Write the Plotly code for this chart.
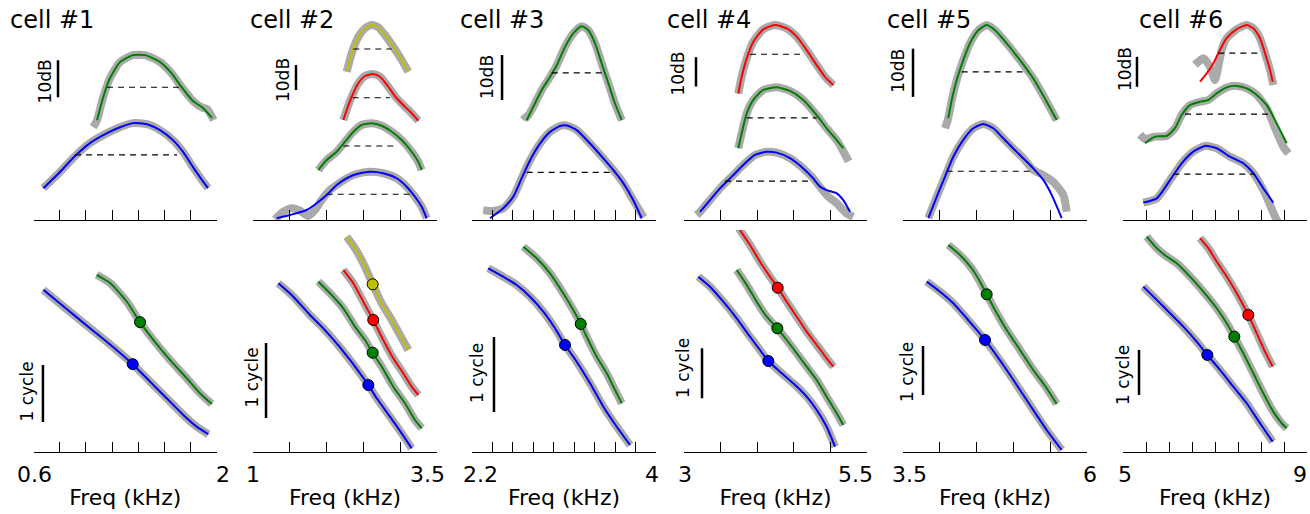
import plotly.graph_objects as go

FIG_W, FIG_H = 1310, 514
BLUE, GREEN, RED, YELLOW = '#0000ff', '#008000', '#ff0000', '#bfbf00'
GRAY = '#aaaaaa'
FONT = 'DejaVu Sans'

# ======================= cell #1 =======================
c1_ticks = [0.6, 0.8, 1.0, 1.2, 1.4, 1.6, 1.8, 2.0]
c1_ticklabels = ['0.6', '2']
c1_top_range = [0, 56.8]
c1_bot_range = [0, 3.89]
c1_amp_blue_f = [0.675, 0.802, 0.917, 1.031, 1.161, 1.260, 1.359, 1.466, 1.565, 1.664, 1.741, 1.817, 1.886, 1.931]
c1_amp_blue_db = [8.6, 13.0, 17.3, 20.8, 23.5, 25.1, 26.2, 25.9, 24.3, 21.6, 18.4, 14.3, 10.8, 8.6]
c1_amp_green_f = [1.085, 1.130, 1.184, 1.260, 1.359, 1.451, 1.566, 1.657, 1.718, 1.817, 1.893, 1.962]
c1_amp_green_db = [27.0, 33.0, 38.4, 42.7, 44.6, 44.6, 42.7, 39.5, 36.5, 32.2, 30.3, 27.6]
c1_gray_green_f = [1.055, 1.085, 1.130, 1.184, 1.260, 1.359, 1.451, 1.566, 1.657, 1.718, 1.817, 1.893, 1.925, 1.975]
c1_gray_green_db = [25.1, 27.0, 33.0, 38.4, 42.7, 44.6, 44.6, 42.7, 39.5, 36.5, 32.2, 30.3, 30.0, 27.0]
c1_dash_level = [17.6, 35.9]
c1_dash_lo = [0.917, 1.161]
c1_dash_hi = [1.695, 1.718]
c1_ph_blue_f = [0.675, 0.853, 1.031, 1.209, 1.357, 1.489, 1.616, 1.743, 1.845, 1.934]
c1_ph_blue_cyc = [2.842, 2.504, 2.170, 1.837, 1.539, 1.233, 0.942, 0.649, 0.444, 0.311]
c1_ph_green_f = [1.082, 1.184, 1.311, 1.413, 1.514, 1.641, 1.769, 1.870, 1.960]
c1_ph_green_cyc = [3.105, 2.960, 2.637, 2.275, 1.965, 1.614, 1.293, 1.030, 0.842]
c1_dot_f = [1.357, 1.413]
c1_dot_cyc = [1.539, 2.275]
c1_db_bar = [0.787, 33.2]
c1_db_label = [0.688, 37.5]
c1_cyc_bar = [0.672, 0.526]
c1_cyc_label = [0.550, 1.058]

# ======================= cell #2 =======================
c2_ticks = [1.0, 1.5, 2.0, 2.5, 3.0, 3.5]
c2_ticklabels = ['1', '3.5']
c2_top_range = [0, 84]
c2_bot_range = [0, 2.96]
c2_amp_yellow_f = [2.273, 2.341, 2.431, 2.522, 2.613, 2.702, 2.793, 2.906, 3.020, 3.110]
c2_amp_yellow_db = [59.3, 66.7, 73.3, 76.7, 78.0, 77.1, 74.0, 69.3, 64.0, 59.3]
c2_amp_red_f = [2.227, 2.273, 2.341, 2.431, 2.522, 2.626, 2.726, 2.838, 2.952, 3.065, 3.156, 3.246]
c2_amp_red_db = [40.0, 44.0, 49.3, 54.7, 57.6, 58.4, 57.3, 53.3, 48.7, 45.3, 42.7, 39.7]
c2_amp_green_f = [1.887, 2.001, 2.137, 2.250, 2.363, 2.477, 2.613, 2.749, 2.885, 3.020, 3.156, 3.246, 3.292]
c2_amp_green_db = [20.0, 24.0, 27.3, 31.3, 35.3, 38.0, 38.7, 37.7, 35.3, 32.0, 27.3, 23.3, 20.0]
c2_amp_blue_f = [1.322, 1.503, 1.730, 1.865, 2.001, 2.137, 2.273, 2.409, 2.590, 2.770, 2.952, 3.088, 3.201, 3.292, 3.360]
c2_amp_blue_db = [0.7, 2.0, 4.0, 6.7, 10.0, 14.0, 16.7, 18.4, 19.3, 18.7, 16.7, 13.3, 9.3, 5.3, 0.7]
c2_gray_blue_f = [1.299, 1.412, 1.526, 1.639, 1.751, 1.842, 1.933, 2.046, 2.137, 2.273, 2.409, 2.590, 2.770, 2.952, 3.088, 3.201, 3.292, 3.360]
c2_gray_blue_db = [0.3, 3.3, 4.7, 3.7, 1.6, 4.0, 8.0, 12.0, 14.0, 16.7, 18.4, 19.3, 18.7, 16.7, 13.3, 9.3, 5.3, 0.7]
c2_dash_level = [10.3, 29.6, 48.9, 68.4]
c2_dash_lo = [2.001, 2.227, 2.355, 2.363]
c2_dash_hi = [3.133, 2.952, 2.861, 2.884]
c2_ph_yellow_f = [2.273, 2.386, 2.499, 2.626, 2.749, 2.885, 2.997, 3.110]
c2_ph_yellow_cyc = [2.871, 2.716, 2.516, 2.236, 1.983, 1.760, 1.560, 1.360]
c2_ph_red_f = [2.227, 2.363, 2.499, 2.634, 2.770, 2.906, 3.042, 3.156, 3.246]
c2_ph_red_cyc = [2.427, 2.249, 2.004, 1.760, 1.493, 1.249, 1.049, 0.871, 0.760]
c2_ph_green_f = [1.887, 2.046, 2.227, 2.386, 2.522, 2.626, 2.749, 2.906, 3.065, 3.201, 3.292]
c2_ph_green_cyc = [2.271, 2.116, 1.916, 1.671, 1.493, 1.324, 1.137, 0.871, 0.649, 0.427, 0.316]
c2_ph_blue_f = [1.344, 1.548, 1.774, 1.955, 2.137, 2.318, 2.454, 2.567, 2.681, 2.861, 3.020, 3.156]
c2_ph_blue_cyc = [2.249, 2.071, 1.827, 1.649, 1.449, 1.227, 1.049, 0.893, 0.716, 0.471, 0.249, 0.049]
c2_dot_f = [2.567, 2.626, 2.634, 2.626]
c2_dot_cyc = [0.893, 1.324, 1.760, 2.236]
c2_db_bar = [1.584, 52.0]
c2_db_label = [1.408, 56.0]
c2_cyc_bar = [1.177, 0.453]
c2_cyc_label = [0.986, 0.993]

# ======================= cell #3 =======================
c3_ticks = [2.2, 2.4, 2.6, 2.8, 3.0, 3.2, 3.4, 3.6, 3.8, 4.0]
c3_ticklabels = ['2.2', '4']
c3_top_range = [0, 46.7]
c3_bot_range = [0, 2.96]
c3_amp_green_f = [2.735, 2.800, 2.882, 2.963, 3.029, 3.110, 3.191, 3.273, 3.338, 3.404, 3.469, 3.534, 3.599, 3.665]
c3_amp_green_db = [22.2, 25.2, 28.9, 31.8, 34.4, 38.5, 41.5, 43.1, 42.2, 39.3, 34.8, 30.4, 25.9, 22.2]
c3_gray_green_f = [2.700, 2.735, 2.800, 2.882, 2.963, 3.029, 3.110, 3.191, 3.273, 3.338, 3.404, 3.469, 3.534, 3.599, 3.665]
c3_gray_green_db = [23.5, 22.8, 25.2, 28.9, 31.8, 34.4, 38.5, 41.5, 43.1, 42.2, 39.3, 34.8, 30.4, 25.9, 22.2]
c3_amp_blue_f = [2.376, 2.506, 2.604, 2.686, 2.768, 2.865, 2.963, 3.061, 3.127, 3.224, 3.355, 3.485, 3.583, 3.680, 3.778, 3.860]
c3_amp_blue_db = [0.4, 2.6, 5.2, 9.3, 13.3, 17.0, 19.6, 20.9, 21.0, 20.0, 17.0, 13.7, 11.1, 8.2, 4.4, 0.4]
c3_gray_blue_f = [2.310, 2.400, 2.506, 2.604, 2.686, 2.768, 2.865, 2.963, 3.061, 3.127, 3.224, 3.355, 3.485, 3.583, 3.680, 3.778, 3.880]
c3_gray_blue_db = [2.2, 2.0, 2.6, 5.2, 9.3, 13.3, 17.0, 19.6, 20.9, 21.0, 20.0, 17.0, 13.7, 11.1, 8.2, 4.4, 0.6]
c3_dash_level = [10.6, 32.7]
c3_dash_lo = [2.735, 2.980]
c3_dash_hi = [3.583, 3.501]
c3_ph_green_f = [2.702, 2.833, 2.963, 3.093, 3.191, 3.264, 3.322, 3.420, 3.518, 3.599, 3.665]
c3_ph_green_cyc = [2.737, 2.583, 2.383, 2.116, 1.893, 1.707, 1.537, 1.271, 1.049, 0.827, 0.649]
c3_ph_blue_f = [2.359, 2.506, 2.637, 2.768, 2.898, 3.012, 3.110, 3.224, 3.355, 3.485, 3.616, 3.746]
c3_ph_blue_cyc = [2.449, 2.337, 2.227, 2.071, 1.871, 1.649, 1.427, 1.204, 0.916, 0.604, 0.337, 0.093]
c3_dot_f = [3.110, 3.264]
c3_dot_cyc = [1.427, 1.707]
c3_db_bar = [2.494, 26.7]
c3_db_label = [2.347, 31.8]
c3_cyc_bar = [2.415, 0.533]
c3_cyc_label = [2.249, 1.053]

# ======================= cell #4 =======================
c4_ticks = [3.0, 3.5, 4.0, 4.5, 5.0, 5.5]
c4_ticklabels = ['3', '5.5']
c4_top_range = [0, 71.7]
c4_bot_range = [0, 4.44]
c4_amp_red_f = [3.742, 3.788, 3.857, 3.947, 4.083, 4.243, 4.403, 4.540, 4.676, 4.813, 4.926, 5.040]
c4_amp_red_db = [43.2, 48.9, 55.2, 60.9, 65.1, 66.6, 65.4, 62.6, 58.0, 52.9, 48.9, 46.1]
c4_amp_green_f = [3.742, 3.788, 3.857, 3.947, 4.083, 4.266, 4.448, 4.630, 4.813, 4.949, 5.086, 5.176]
c4_amp_green_db = [24.5, 29.6, 36.4, 41.0, 44.4, 45.3, 44.1, 41.0, 35.8, 31.3, 27.3, 24.5]
c4_gray_green_f = [3.742, 3.788, 3.857, 3.947, 4.083, 4.266, 4.448, 4.630, 4.813, 4.949, 5.086, 5.176, 5.250]
c4_gray_green_db = [24.5, 29.6, 36.4, 41.0, 44.4, 45.3, 44.1, 41.0, 35.8, 31.3, 27.3, 23.5, 20.0]
c4_amp_blue_f = [3.219, 3.355, 3.492, 3.652, 3.810, 3.970, 4.130, 4.266, 4.448, 4.630, 4.766, 4.858, 4.949, 5.086, 5.176, 5.268]
c4_amp_blue_db = [2.8, 6.8, 10.8, 14.8, 18.8, 22.2, 23.3, 23.0, 21.1, 17.6, 14.2, 11.4, 10.2, 9.1, 6.8, 2.8]
c4_gray_blue_f = [3.173, 3.219, 3.355, 3.492, 3.652, 3.810, 3.970, 4.130, 4.266, 4.448, 4.630, 4.766, 4.949, 5.086, 5.220, 5.310]
c4_gray_blue_db = [1.7, 2.8, 6.8, 10.8, 14.8, 18.8, 22.2, 23.3, 23.0, 21.1, 17.6, 14.2, 8.5, 5.7, 2.3, 1.1]
c4_dash_level = [13.3, 34.9, 56.6]
c4_dash_lo = [3.560, 3.857, 3.902]
c4_dash_hi = [4.766, 4.813, 4.630]
c4_ph_red_f = [3.735, 3.765, 3.902, 4.038, 4.175, 4.280, 4.403, 4.540, 4.676, 4.813, 4.949, 5.040]
c4_ph_red_cyc = [4.52, 4.44, 4.14, 3.806, 3.506, 3.286, 3.006, 2.706, 2.406, 2.14, 1.874, 1.706]
c4_ph_green_f = [3.720, 3.857, 3.993, 4.130, 4.275, 4.403, 4.540, 4.676, 4.813, 4.949, 5.086, 5.176]
c4_ph_green_cyc = [3.64, 3.34, 3.006, 2.706, 2.474, 2.24, 1.974, 1.706, 1.44, 1.106, 0.774, 0.54]
c4_ph_blue_f = [3.195, 3.355, 3.537, 3.720, 3.902, 4.038, 4.152, 4.311, 4.493, 4.676, 4.813, 4.949, 5.063]
c4_ph_blue_cyc = [3.506, 3.306, 3.006, 2.674, 2.306, 2.04, 1.82, 1.606, 1.374, 1.106, 0.84, 0.506, 0.106]
c4_dot_f = [4.152, 4.275, 4.280]
c4_dot_cyc = [1.82, 2.474, 3.286]
c4_db_bar = [3.164, 45.6]
c4_db_label = [2.918, 50.0]
c4_cyc_bar = [3.246, 1.074]
c4_cyc_label = [2.986, 1.68]

# ======================= cell #5 =======================
c5_ticks = [3.5, 4.0, 4.5, 5.0, 5.5, 6.0]
c5_ticklabels = ['3.5', '6']
c5_top_range = [0, 43.5]
c5_bot_range = [0, 4.53]
c5_amp_green_f = [4.115, 4.162, 4.230, 4.319, 4.410, 4.523, 4.637, 4.750, 4.909, 5.090, 5.270, 5.452, 5.588]
c5_amp_green_db = [21.1, 24.8, 29.0, 33.1, 36.6, 39.3, 40.4, 39.3, 36.6, 33.1, 29.3, 24.5, 20.7]
c5_gray_green_f = [4.071, 4.115, 4.162, 4.230, 4.319, 4.410, 4.523, 4.637, 4.750, 4.909, 5.090, 5.270, 5.452, 5.588]
c5_gray_green_db = [19.0, 21.1, 24.8, 29.0, 33.1, 36.6, 39.3, 40.4, 39.3, 36.6, 33.1, 29.3, 24.5, 20.7]
c5_amp_blue_f = [3.844, 3.958, 4.071, 4.183, 4.319, 4.455, 4.591, 4.727, 4.863, 4.999, 5.134, 5.270, 5.406, 5.520, 5.656]
c5_amp_blue_db = [0.4, 4.8, 9.0, 13.1, 16.6, 19.0, 19.9, 19.0, 16.9, 14.8, 12.8, 10.7, 8.3, 5.2, 0.4]
c5_gray_blue_f = [3.844, 3.958, 4.071, 4.183, 4.319, 4.455, 4.591, 4.727, 4.863, 4.999, 5.134, 5.270, 5.406, 5.542, 5.678, 5.724]
c5_gray_blue_db = [0.4, 4.8, 9.0, 13.1, 16.6, 19.0, 19.9, 19.0, 16.9, 14.8, 12.8, 10.4, 9.3, 7.9, 5.2, 1.7]
c5_dash_level = [10.1, 30.7]
c5_dash_lo = [4.094, 4.297]
c5_dash_hi = [5.293, 5.202]
c5_ph_green_f = [4.115, 4.274, 4.433, 4.546, 4.637, 4.750, 4.909, 5.090, 5.270, 5.452, 5.588]
c5_ph_green_cyc = [4.224, 4.020, 3.749, 3.476, 3.218, 2.898, 2.490, 2.082, 1.673, 1.300, 0.980]
c5_ph_blue_f = [3.822, 4.003, 4.183, 4.365, 4.501, 4.614, 4.750, 4.909, 5.090, 5.270, 5.452, 5.656]
c5_ph_blue_cyc = [3.476, 3.271, 3.035, 2.729, 2.490, 2.286, 2.014, 1.673, 1.265, 0.857, 0.449, 0.041]
c5_dot_f = [4.614, 4.637]
c5_dot_cyc = [2.286, 3.218]
c5_db_bar = [3.636, 25.5]
c5_db_label = [3.432, 30.9]
c5_cyc_bar = [3.772, 1.163]
c5_cyc_label = [3.554, 1.633]

# ======================= cell #6 =======================
c6_ticks = [5.0, 5.5, 6.0, 6.5, 7.0, 7.5, 8.0, 8.5, 9.0]
c6_ticklabels = ['5', '9']
c6_top_range = [0, 70]
c6_bot_range = [0, 4.93]
c6_amp_red_f = [6.674, 6.820, 6.963, 7.109, 7.254, 7.472, 7.689, 7.833, 7.978, 8.087, 8.196, 8.254]
c6_amp_red_db = [46.1, 48.9, 52.2, 56.7, 60.6, 63.6, 65.0, 63.9, 60.6, 55.6, 50.0, 46.1]
c6_gray_red_f = [6.565, 6.746, 6.891, 7.000, 7.072, 7.146, 7.254, 7.472, 7.689, 7.833, 7.978, 8.087, 8.196, 8.268]
c6_gray_red_db = [51.7, 53.9, 51.1, 46.7, 51.1, 56.7, 60.6, 63.6, 65.0, 63.9, 60.6, 55.6, 50.0, 45.0]
c6_amp_green_f = [5.478, 5.696, 5.950, 6.130, 6.276, 6.457, 6.674, 6.854, 7.037, 7.254, 7.472, 7.689, 7.907, 8.124, 8.304, 8.450, 8.559]
c6_amp_green_db = [25.6, 27.8, 28.0, 30.6, 35.0, 38.3, 39.4, 40.0, 42.2, 44.2, 44.7, 43.9, 41.7, 38.3, 33.3, 28.9, 25.6]
c6_gray_green_f = [5.370, 5.478, 5.696, 5.950, 6.130, 6.276, 6.457, 6.674, 6.854, 7.037, 7.254, 7.472, 7.689, 7.907, 8.124, 8.304, 8.485, 8.593]
c6_gray_green_db = [28.5, 27.0, 27.8, 28.0, 30.6, 35.0, 38.3, 39.4, 40.0, 42.2, 44.2, 44.7, 43.9, 41.7, 37.3, 30.7, 24.4, 22.2]
c6_amp_blue_f = [5.441, 5.733, 6.022, 6.276, 6.528, 6.783, 7.037, 7.326, 7.615, 7.833, 8.050, 8.267]
c6_amp_blue_db = [5.8, 7.2, 13.3, 18.9, 22.8, 24.7, 23.9, 21.1, 18.9, 15.6, 10.6, 5.8]
c6_gray_blue_f = [5.441, 5.733, 6.022, 6.276, 6.528, 6.783, 7.037, 7.326, 7.615, 7.833, 8.050, 8.196, 8.341, 8.420]
c6_gray_blue_db = [5.8, 7.2, 13.3, 18.9, 22.8, 24.7, 23.9, 21.1, 18.9, 15.6, 10.0, 5.0, 0.0, -2.0]
c6_dash_level = [15.3, 35.3, 55.6]
c6_dash_lo = [6.094, 6.348, 7.072]
c6_dash_hi = [7.870, 8.233, 7.941]
c6_ph_red_f = [6.674, 6.854, 7.037, 7.254, 7.472, 7.724, 7.907, 8.087, 8.254]
c6_ph_red_cyc = [4.749, 4.527, 4.229, 3.896, 3.527, 3.044, 2.638, 2.229, 1.896]
c6_ph_green_f = [5.515, 5.733, 5.950, 6.167, 6.457, 6.746, 7.037, 7.254, 7.420, 7.615, 7.833, 8.050, 8.267, 8.450, 8.559]
c6_ph_green_cyc = [4.784, 4.527, 4.340, 4.193, 3.896, 3.562, 3.193, 2.860, 2.562, 2.193, 1.749, 1.304, 0.896, 0.638, 0.527]
c6_ph_blue_f = [5.441, 5.733, 6.022, 6.311, 6.602, 6.833, 7.109, 7.398, 7.689, 7.978, 8.254]
c6_ph_blue_cyc = [3.673, 3.378, 3.082, 2.784, 2.451, 2.156, 1.822, 1.451, 1.082, 0.638, 0.229]
c6_dot_f = [6.833, 7.420, 7.724]
c6_dot_cyc = [2.156, 2.562, 3.044]
c6_db_bar = [5.304, 44.4]
c6_db_label = [5.043, 50.3]
c6_cyc_bar = [5.348, 1.267]
c6_cyc_label = [5.000, 1.711]

titles = ['cell #1', 'cell #2', 'cell #3', 'cell #4', 'cell #5', 'cell #6']

cells = [
    dict(ticks=c1_ticks, labels=c1_ticklabels, top=c1_top_range, bot=c1_bot_range,
         amp=[(BLUE, c1_amp_blue_f, c1_amp_blue_db, c1_amp_blue_f, c1_amp_blue_db),
              (GREEN, c1_amp_green_f, c1_amp_green_db, c1_gray_green_f, c1_gray_green_db)],
         dl=c1_dash_level, dlo=c1_dash_lo, dhi=c1_dash_hi,
         ph=[(BLUE, c1_ph_blue_f, c1_ph_blue_cyc), (GREEN, c1_ph_green_f, c1_ph_green_cyc)],
         dots=(c1_dot_f, c1_dot_cyc, [BLUE, GREEN]),
         dbbar=c1_db_bar, dblab=c1_db_label, cycbar=c1_cyc_bar, cyclab=c1_cyc_label),
    dict(ticks=c2_ticks, labels=c2_ticklabels, top=c2_top_range, bot=c2_bot_range,
         amp=[(BLUE, c2_amp_blue_f, c2_amp_blue_db, c2_gray_blue_f, c2_gray_blue_db),
              (GREEN, c2_amp_green_f, c2_amp_green_db, c2_amp_green_f, c2_amp_green_db),
              (RED, c2_amp_red_f, c2_amp_red_db, c2_amp_red_f, c2_amp_red_db),
              (YELLOW, c2_amp_yellow_f, c2_amp_yellow_db, c2_amp_yellow_f, c2_amp_yellow_db)],
         dl=c2_dash_level, dlo=c2_dash_lo, dhi=c2_dash_hi,
         ph=[(BLUE, c2_ph_blue_f, c2_ph_blue_cyc), (GREEN, c2_ph_green_f, c2_ph_green_cyc),
             (RED, c2_ph_red_f, c2_ph_red_cyc), (YELLOW, c2_ph_yellow_f, c2_ph_yellow_cyc)],
         dots=(c2_dot_f, c2_dot_cyc, [BLUE, GREEN, RED, YELLOW]),
         dbbar=c2_db_bar, dblab=c2_db_label, cycbar=c2_cyc_bar, cyclab=c2_cyc_label),
    dict(ticks=c3_ticks, labels=c3_ticklabels, top=c3_top_range, bot=c3_bot_range,
         amp=[(BLUE, c3_amp_blue_f, c3_amp_blue_db, c3_gray_blue_f, c3_gray_blue_db),
              (GREEN, c3_amp_green_f, c3_amp_green_db, c3_gray_green_f, c3_gray_green_db)],
         dl=c3_dash_level, dlo=c3_dash_lo, dhi=c3_dash_hi,
         ph=[(BLUE, c3_ph_blue_f, c3_ph_blue_cyc), (GREEN, c3_ph_green_f, c3_ph_green_cyc)],
         dots=(c3_dot_f, c3_dot_cyc, [BLUE, GREEN]),
         dbbar=c3_db_bar, dblab=c3_db_label, cycbar=c3_cyc_bar, cyclab=c3_cyc_label),
    dict(ticks=c4_ticks, labels=c4_ticklabels, top=c4_top_range, bot=c4_bot_range,
         amp=[(BLUE, c4_amp_blue_f, c4_amp_blue_db, c4_gray_blue_f, c4_gray_blue_db),
              (GREEN, c4_amp_green_f, c4_amp_green_db, c4_gray_green_f, c4_gray_green_db),
              (RED, c4_amp_red_f, c4_amp_red_db, c4_amp_red_f, c4_amp_red_db)],
         dl=c4_dash_level, dlo=c4_dash_lo, dhi=c4_dash_hi,
         ph=[(BLUE, c4_ph_blue_f, c4_ph_blue_cyc), (GREEN, c4_ph_green_f, c4_ph_green_cyc),
             (RED, c4_ph_red_f, c4_ph_red_cyc)],
         dots=(c4_dot_f, c4_dot_cyc, [BLUE, GREEN, RED]),
         dbbar=c4_db_bar, dblab=c4_db_label, cycbar=c4_cyc_bar, cyclab=c4_cyc_label),
    dict(ticks=c5_ticks, labels=c5_ticklabels, top=c5_top_range, bot=c5_bot_range,
         amp=[(BLUE, c5_amp_blue_f, c5_amp_blue_db, c5_gray_blue_f, c5_gray_blue_db),
              (GREEN, c5_amp_green_f, c5_amp_green_db, c5_gray_green_f, c5_gray_green_db)],
         dl=c5_dash_level, dlo=c5_dash_lo, dhi=c5_dash_hi,
         ph=[(BLUE, c5_ph_blue_f, c5_ph_blue_cyc), (GREEN, c5_ph_green_f, c5_ph_green_cyc)],
         dots=(c5_dot_f, c5_dot_cyc, [BLUE, GREEN]),
         dbbar=c5_db_bar, dblab=c5_db_label, cycbar=c5_cyc_bar, cyclab=c5_cyc_label),
    dict(ticks=c6_ticks, labels=c6_ticklabels, top=c6_top_range, bot=c6_bot_range,
         amp=[(BLUE, c6_amp_blue_f, c6_amp_blue_db, c6_gray_blue_f, c6_gray_blue_db),
              (GREEN, c6_amp_green_f, c6_amp_green_db, c6_gray_green_f, c6_gray_green_db),
              (RED, c6_amp_red_f, c6_amp_red_db, c6_gray_red_f, c6_gray_red_db)],
         dl=c6_dash_level, dlo=c6_dash_lo, dhi=c6_dash_hi,
         ph=[(BLUE, c6_ph_blue_f, c6_ph_blue_cyc), (GREEN, c6_ph_green_f, c6_ph_green_cyc),
             (RED, c6_ph_red_f, c6_ph_red_cyc)],
         dots=(c6_dot_f, c6_dot_cyc, [BLUE, GREEN, RED]),
         dbbar=c6_db_bar, dblab=c6_db_label, cycbar=c6_cyc_bar, cyclab=c6_cyc_label),
]

# ---------------- layout geometry (pixels) ----------------
PANEL_X = [(33.5, 217), (253, 437), (472, 656), (684, 867), (903, 1087), (1123, 1307)]
TOP_Y = (10, 220)
BOT_Y = (230, 452)
TITLE_X = [8, 248, 458, 665, 885, 1137]
TITLE_Y = 20
TICKLABEL_Y = 474
# horizontal nudge (px) of the end tick labels (left, right) in each panel
TICKLABEL_SHIFT = [(1, 6), (0, -10), (8, -4), (1, -12), (6, 3), (2, -7)]


def px_x(p):
    return p / FIG_W


def px_y(p):
    return 1 - p / FIG_H


def data_to_paper(v, rng, dom):
    return dom[0] + (v - rng[0]) / (rng[1] - rng[0]) * (dom[1] - dom[0])


fig = go.Figure()
layout_axes = {}
annotations = []


def names(k):
    xs = 'x' if k == 1 else f'x{k}'
    ys = 'y' if k == 1 else f'y{k}'
    xl = 'xaxis' if k == 1 else f'xaxis{k}'
    yl = 'yaxis' if k == 1 else f'yaxis{k}'
    return xs, ys, xl, yl


def line_trace(f, v, color, width, xs, ys, dash=None, spline=True):
    ln = dict(color=color, width=width)
    if spline:
        ln.update(shape='spline', smoothing=0.6)
    if dash:
        ln['dash'] = dash
    return go.Scatter(x=f, y=v, mode='lines', line=ln, xaxis=xs, yaxis=ys,
                      hoverinfo='skip', showlegend=False)


for i, c in enumerate(cells):
    x0, x1 = PANEL_X[i]
    kt, kb = 2 * i + 1, 2 * i + 2
    xt, yt, xlt, ylt = names(kt)
    xb, yb, xlb, ylb = names(kb)
    rng = [c['ticks'][0], c['ticks'][-1]]
    xdom = [px_x(x0), px_x(x1)]
    tdom = [px_y(TOP_Y[1]), px_y(TOP_Y[0])]
    bdom = [px_y(BOT_Y[1]), px_y(BOT_Y[0])]
    common_x = dict(domain=xdom, range=rng, showline=True, linecolor='black',
                    linewidth=1.3, ticks='inside', ticklen=10, tickwidth=1.3, tickcolor='black',
                    tickmode='array', tickvals=c['ticks'], showgrid=False, zeroline=False,
                    fixedrange=True, automargin=False, showticklabels=False)
    layout_axes[xlt] = dict(common_x, anchor=yt)
    layout_axes[ylt] = dict(domain=tdom, range=c['top'], visible=False, anchor=xt, fixedrange=True)
    layout_axes[xlb] = dict(common_x, anchor=yb,
                            title=dict(text='Freq (kHz)', font=dict(family=FONT, size=22, color='black'),
                                       standoff=37))
    layout_axes[ylb] = dict(domain=bdom, range=c['bot'], visible=False, anchor=xb, fixedrange=True)

    # end tick labels of the frequency axis
    for val, txt, sh in zip([rng[0], rng[1]], c['labels'], TICKLABEL_SHIFT[i]):
        annotations.append(dict(x=val, y=px_y(TICKLABEL_Y), xref=xb, yref='paper', text=txt,
                                showarrow=False, xanchor='center', yanchor='middle', xshift=sh,
                                font=dict(family=FONT, size=22, color='black')))

    # amplitude curves: gray raw first, then coloured fits
    for col, f, v, gf, gv in c['amp']:
        fig.add_trace(line_trace(gf, gv, GRAY, 8, xt, yt))
    for col, f, v, gf, gv in c['amp']:
        fig.add_trace(line_trace(f, v, col, 2, xt, yt))
    for lev, lo, hi in zip(c['dl'], c['dlo'], c['dhi']):
        fig.add_trace(line_trace([lo, hi], [lev, lev], 'black', 1.2, xt, yt, dash='6px,5px', spline=False))

    # phase curves
    for col, f, v in c['ph']:
        fig.add_trace(line_trace(f, v, GRAY, 8, xb, yb))
    for col, f, v in c['ph']:
        fig.add_trace(line_trace(f, v, col, 2, xb, yb))
    df, dv, dcol = c['dots']
    fig.add_trace(go.Scatter(x=df, y=dv, mode='markers', xaxis=xb, yaxis=yb, hoverinfo='skip',
                             showlegend=False, cliponaxis=False,
                             marker=dict(size=11, color=dcol, line=dict(color='black', width=1))))

    # scale bars
    bf, bv = c['dbbar']
    fig.add_trace(line_trace([bf, bf], [bv, bv + 10], 'black', 2.5, xt, yt, spline=False))
    cf, cv = c['cycbar']
    fig.add_trace(line_trace([cf, cf], [cv, cv + 1], 'black', 2.5, xb, yb, spline=False))
    annotations.append(dict(x=data_to_paper(c['dblab'][0], rng, xdom),
                            y=data_to_paper(c['dblab'][1], c['top'], tdom),
                            xref='paper', yref='paper', text='10dB',
                            textangle=-90, showarrow=False, xanchor='center', yanchor='middle',
                            font=dict(family=FONT, size=17, color='black')))
    annotations.append(dict(x=data_to_paper(c['cyclab'][0], rng, xdom),
                            y=data_to_paper(c['cyclab'][1], c['bot'], bdom),
                            xref='paper', yref='paper', text='1 cycle',
                            textangle=-90, showarrow=False, xanchor='center', yanchor='middle',
                            font=dict(family=FONT, size=17, color='black')))
    annotations.append(dict(x=px_x(TITLE_X[i]), y=px_y(TITLE_Y), xref='paper', yref='paper',
                            text=titles[i], showarrow=False, xanchor='left', yanchor='middle',
                            font=dict(family=FONT, size=24, color='black')))

fig.update_layout(width=FIG_W, height=FIG_H, margin=dict(l=0, r=0, t=0, b=0),
                  paper_bgcolor='white', plot_bgcolor='white', showlegend=False,
                  annotations=annotations, font=dict(family=FONT), **layout_axes)

fig.write_html('out.html')
